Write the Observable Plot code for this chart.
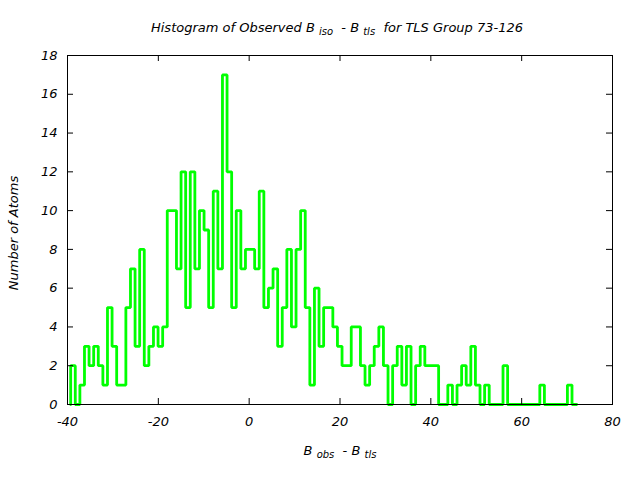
<!DOCTYPE html>
<html><head><meta charset="utf-8">
<script src="https://cdn.jsdelivr.net/npm/d3@7"></script>
<script src="https://cdn.jsdelivr.net/npm/@observablehq/plot@0.6"></script>
<style>body{margin:0;background:#fff} svg{display:block}</style>
</head><body><div id="chart"></div>
<script>
// Histogram bins (first bin edge and bin width)
const binStart = -39.3;
const binWidth = 1.0127;
const counts = [
  2,0,1,3,2,3,2,1,5,3,
  1,1,5,7,3,8,2,3,4,3,
  4,10,10,7,12,5,12,7,10,9,
  5,11,7,17,12,5,10,7,8,8,
  7,11,5,6,7,3,5,8,4,8,
  10,5,1,6,3,5,5,4,3,2,
  2,4,4,2,1,2,3,4,2,0,
  2,3,1,3,0,2,3,2,2,2,
  0,0,1,0,1,2,1,3,1,0,
  1,0,0,0,2,0,0,0,0,0,
  0,0,1,0,0,0,0,0,1,0
];
const xTicks = [-40,-20,0,20,40,60,80];
const yTicks = [0,2,4,6,8,10,12,14,16,18];

// step outline (histeps style)
const steps = [{x: binStart, y: 0}];
counts.forEach((c, i) => {
  const x0 = binStart + i * binWidth;
  steps.push({x: x0, y: c}, {x: x0 + binWidth, y: c});
});
steps.push({x: binStart + counts.length * binWidth, y: 0});

const W = 640, H = 480, mL = 67, mR = 28, mT = 55, mB = 76;
const pw = W - mL - mR, ph = H - mT - mB;
const font = "DejaVu Sans";

const plot = Plot.plot({
  width: W, height: H,
  marginLeft: mL, marginRight: mR, marginTop: mT, marginBottom: mB,
  style: {fontFamily: font, fontSize: "13px", fontStyle: "italic", background: "white", color: "black"},
  x: {domain: [-40, 80], ticks: xTicks, tickFormat: d => String(d), label: null},
  y: {domain: [0, 18], ticks: yTicks, tickFormat: d => String(d), label: null},
  marks: [
    Plot.line(steps, {x: "x", y: "y", stroke: "#00ff00", strokeWidth: 2.8, strokeLinejoin: "miter"}),
    Plot.tickX(xTicks, {x: d => d, insetTop: ph - 6, stroke: "black"}),
    Plot.tickX(xTicks, {x: d => d, insetBottom: ph - 6, stroke: "black"}),
    Plot.tickY(yTicks, {y: d => d, insetRight: pw - 6, stroke: "black"}),
    Plot.tickY(yTicks, {y: d => d, insetLeft: pw - 6, stroke: "black"}),
    Plot.frame({stroke: "black"}),
    Plot.axisX({ticks: xTicks, tickFormat: d => String(d), tickSize: 0, tickPadding: 12, label: null, fontSize: 13}),
    Plot.axisY({ticks: yTicks, tickFormat: d => String(d), tickSize: 0, tickPadding: 10, label: null, fontSize: 13})
  ]
});
document.getElementById("chart").appendChild(plot);

const svg = d3.select(plot);
const t = svg.append("text").attr("x", 337).attr("y", 32).attr("text-anchor", "middle")
  .attr("font-family", font).attr("font-style", "italic").attr("font-size", 13).attr("fill", "black");
t.append("tspan").text("Histogram of Observed B ");
t.append("tspan").attr("font-size", 10).attr("dy", 3).text("iso");
t.append("tspan").attr("dy", -3).text("  - B ");
t.append("tspan").attr("font-size", 10).attr("dy", 3).text("tls");
t.append("tspan").attr("dy", -3).text("  for TLS Group 73-126");

const xl = svg.append("text").attr("x", 340).attr("y", 455).attr("text-anchor", "middle")
  .attr("font-family", font).attr("font-style", "italic").attr("font-size", 13).attr("fill", "black");
xl.append("tspan").text("B ");
xl.append("tspan").attr("font-size", 10).attr("dy", 3).text("obs");
xl.append("tspan").attr("dy", -3).text("  - B ");
xl.append("tspan").attr("font-size", 10).attr("dy", 3).text("tls");

svg.append("text").attr("transform", "translate(18,233) rotate(-90)").attr("text-anchor", "middle")
  .attr("font-family", font).attr("font-style", "italic").attr("font-size", 13).attr("fill", "black")
  .text("Number of Atoms");
</script>
</body></html>
